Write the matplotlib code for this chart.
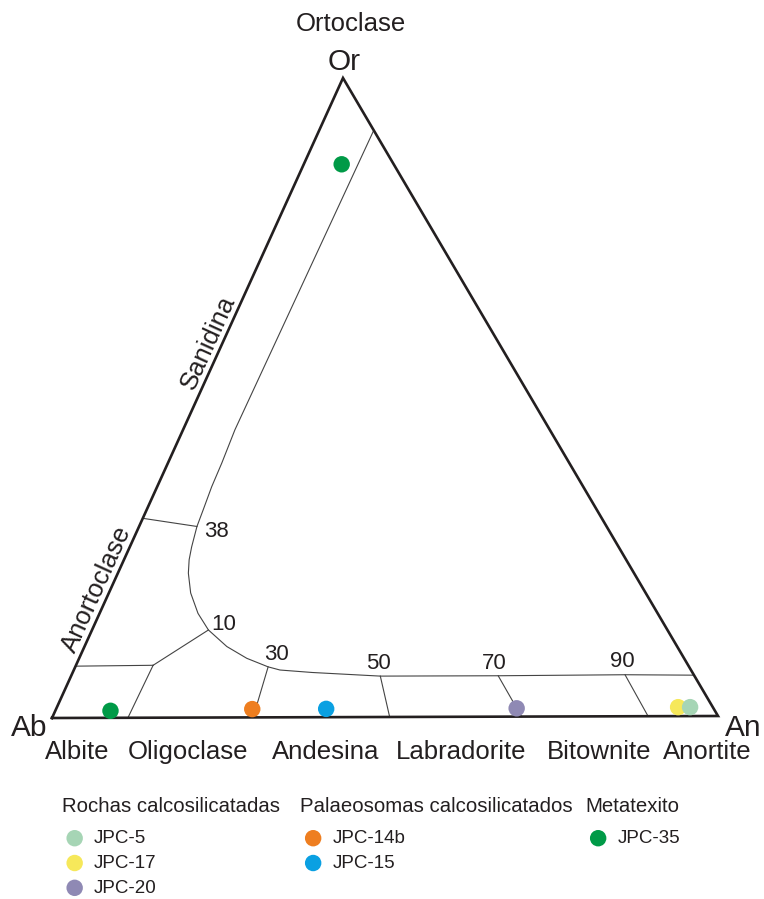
import matplotlib
matplotlib.use("Agg")
import matplotlib.pyplot as plt

plt.rcParams['font.family'] = ['Liberation Sans', 'DejaVu Sans']

# ---------------- data (ternary compositions, %) ----------------
samples = ["JPC-5", "JPC-17", "JPC-20", "JPC-14b", "JPC-15", "JPC-35", "JPC-35"]
an_pct = [95.2, 93.4, 69.2, 29.5, 40.6, 8.3, 5.7]
or_pct = [1.4, 1.4, 1.3, 1.3, 1.3, 1.1, 86.5]

groups = ["Rochas calcosilicatadas", "Palaeosomas calcosilicatados", "Metatexito"]
group_members = [["JPC-5", "JPC-17", "JPC-20"], ["JPC-14b", "JPC-15"], ["JPC-35"]]

# feldspar field boundary (solvus) as An%, Or%
curve_an = [8.2, 7.8, 8.1, 8.2, 8.5, 8.7, 9.3, 9.8, 10.6, 12.3, 14.8, 17.5, 21.4, 25.2,
            29.0, 31.0, 36.0, 46.5, 55.5, 64.2, 83.2, 93.6]
curve_or = [91.8, 45.0, 39.8, 36.1, 32.5, 29.9, 26.7, 24.7, 22.6, 19.5, 16.3, 13.7, 11.1, 9.25,
            7.9, 7.4, 7.0, 6.4, 6.4, 6.4, 6.5, 6.4]

# tie / field division lines (start An, Or -> end An, Or)
tie_an0 = [8.7, 17.5, 11.6, 11.6, 29.0, 46.5, 64.2, 83.2]
tie_or0 = [29.9, 13.7, 8.2, 8.2, 7.9, 6.4, 6.4, 6.5]
tie_an1 = [0.0, 11.6, 0.0, 11.4, 30.2, 50.7, 70.5, 89.5]
tie_or1 = [31.2, 8.2, 8.1, 0.0, 0.0, 0.0, 0.0, 0.0]

curve_labels = ["38", "10", "30", "50", "70", "90"]
field_names = ["Albite", "Oligoclase", "Andesina", "Labradorite", "Bitownite", "Anortite"]

colors = {"JPC-5": "#a6d5b5", "JPC-17": "#f6e85a", "JPC-20": "#8f89b4",
          "JPC-14b": "#ee7e20", "JPC-15": "#0aa0e2", "JPC-35": "#009a47"}

# ---------------- layout ----------------
W, H = 764, 899
V_AB = (52.0, 718.0)
V_AN = (718.0, 716.0)
V_OR = (343.0, 78.0)
TXT = "#231f20"


def tern(an, orr):
    ab = 100.0 - an - orr
    x = (ab * V_AB[0] + an * V_AN[0] + orr * V_OR[0]) / 100.0
    y = (ab * V_AB[1] + an * V_AN[1] + orr * V_OR[1]) / 100.0
    return x, y


fig = plt.figure(figsize=(W / 100, H / 100), dpi=100)
ax = fig.add_axes([0, 0, 1, 1])
ax.set_xlim(0, W)
ax.set_ylim(H, 0)
ax.axis("off")

# triangle
tri_an = [0, 100, 0, 0]
tri_or = [0, 0, 100, 0]
tx, ty = zip(*[tern(a, o) for a, o in zip(tri_an, tri_or)])
ax.plot(tx, ty, color=TXT, lw=1.9, solid_joinstyle="miter", zorder=3)

# boundary curve
cx, cy = zip(*[tern(a, o) for a, o in zip(curve_an, curve_or)])
ax.plot(cx, cy, color="#444444", lw=0.8, zorder=2, solid_joinstyle="round")

# tie lines
for a0, o0, a1, o1 in zip(tie_an0, tie_or0, tie_an1, tie_or1):
    x0, y0 = tern(a0, o0)
    x1, y1 = tern(a1, o1)
    ax.plot([x0, x1], [y0, y1], color="#444444", lw=0.8, zorder=2)

# data points
handles = {}
order = [1, 0, 2, 3, 4, 5, 6]
for i in order:
    s = samples[i]
    x, y = tern(an_pct[i], or_pct[i])
    h = ax.scatter([x], [y], s=140, color=colors[s], edgecolors="none", zorder=5)
    handles.setdefault(s, h)

# labels
ax.text(351, 31, "Ortoclase", fontsize=18.5, color=TXT, ha="center", va="baseline")
ax.text(344, 69.5, "Or", fontsize=21.5, color=TXT, ha="center", va="baseline")
ax.text(29, 736, "Ab", fontsize=21.5, color=TXT, ha="center", va="baseline")
ax.text(743, 736, "An", fontsize=21.5, color=TXT, ha="center", va="baseline")

name_x = [77.5, 188, 326, 461, 599, 707]
for nm, xx in zip(field_names, name_x):
    ax.text(xx, 759, nm, fontsize=18.5, color=TXT, ha="center", va="baseline")

num_xy = [(216.7, 537.3), (223.3, 630.5), (276, 660.5), (378.3, 669.3), (494.3, 669.3), (622.3, 666.7)]
for lab, (xx, yy) in zip(curve_labels, num_xy):
    ax.text(xx, yy, lab, fontsize=16, color=TXT, ha="center", va="baseline")

ax.text(208.5, 342.5, "Sanidina", fontsize=18.5, color=TXT, ha="center", va="center",
        rotation=65.5, rotation_mode="anchor")
ax.text(97, 589, "Anortoclase", fontsize=18.5, color=TXT, ha="center", va="center",
        rotation=65.5, rotation_mode="anchor")

# legends (group headers + entries)
head_x = [62, 300.5, 585.5]
for g, members, hx in zip(groups, group_members, head_x):
    ax.text(hx, 812, g, fontsize=14.7, color=TXT, ha="left", va="baseline")
    fig.legend(handles=[handles[m] for m in members], labels=members,
               loc="upper left", bbox_to_anchor=(hx / W, 1 - 830 / H),
               frameon=False, fontsize=13.5, borderpad=0, borderaxespad=0,
               handlelength=1.35, handletextpad=0.35, labelspacing=0.41,
               scatterpoints=1, labelcolor=TXT)

fig.savefig("out.png", dpi=100)
